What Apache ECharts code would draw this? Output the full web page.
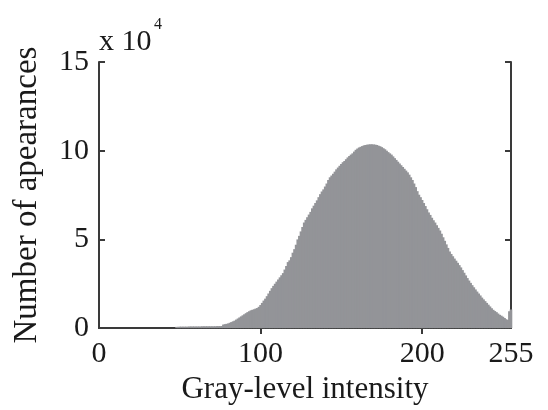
<!DOCTYPE html>
<html>
<head>
<meta charset="utf-8">
<script src="https://cdn.jsdelivr.net/npm/echarts@6/dist/echarts.min.js"></script>
<style>
html,body{margin:0;padding:0;background:#fff;}
#chart{width:548px;height:410px;}
</style>
</head>
<body>
<div id="chart"></div>
<script>
// Gray-level bins 0..255
var binCount = 256;
// Number of appearances per bin, in units of 10^4
var zeroBins = [0,0,0,0,0,0,0,0,0,0, 0,0,0,0,0,0,0,0,0,0, 0,0,0,0,0,0,0,0,0,0, 0,0,0,0,0,0,0,0,0,0, 0,0,0,0,0,0,0,0]; // bins 0-47
var lowBins = [0.07,0.07,0.08,0.08,0.08,0.08,0.08,0.08,0.09,0.09,0.09,0.09,0.09,0.09,0.09,0.09,0.1,0.1,0.1,0.1,0.1,0.1,0.1,0.1,0.1,0.11,0.11,0.11,0.12]; // bins 48-76
var mainBins = [
  0.2,0.22,0.24,0.26,0.3,0.34,0.38,0.42,0.48,0.54,
  0.6,0.66,0.72,0.78,0.84,0.9,0.95,1.0,1.03,1.06,
  1.1,1.13,1.2,1.3,1.42,1.55,1.66,1.8,1.95,2.1,
  2.25,2.38,2.5,2.62,2.74,2.86,2.98,3.1,3.3,3.5,
  3.72,3.82,4.0,4.25,4.45,4.7,5.0,5.2,5.45,5.7,
  5.95,6.1,6.25,6.4,6.55,6.75,6.9,7.05,7.2,7.38,
  7.55,7.7,7.82,7.98,8.15,8.35,8.5,8.6,8.7,8.82,
  8.95,9.05,9.15,9.25,9.35,9.42,9.52,9.62,9.7,9.78,
  9.85,9.95,10.05,10.12,10.18,10.22,10.26,10.3,10.32,10.34,
  10.35,10.36,10.36,10.35,10.34,10.32,10.28,10.25,10.2,10.14,
  10.08,10.0,9.92,9.85,9.78,9.68,9.58,9.48,9.38,9.28,
  9.18,9.08,8.98,8.88,8.78,8.65,8.5,8.35,8.15,7.95,
  7.72,7.52,7.38,7.22,7.05,6.88,6.7,6.52,6.38,6.22,
  6.08,5.95,5.8,5.65,5.5,5.32,5.12,4.92,4.72,4.52,
  4.32,4.18,4.05,3.92,3.8,3.68,3.55,3.42,3.27,3.12,
  2.97,2.82,2.68,2.55,2.42,2.3,2.18,2.06,1.95,1.84,
  1.72,1.62,1.52,1.42,1.32,1.22,1.12,1.03,0.96,0.9,
  0.82,0.75,0.7,0.64,0.57,0.5,0.46,0.95,1.05
]; // bins 77-255
var xTickLabels = [0, 100, 200, 255];
var xTopTicks = [100, 200];
var yTicks = [0, 5, 10, 15];

var counts = zeroBins.concat(lowBins, mainBins);
var categories = [];
for (var i = 0; i < binCount; i++) categories.push(String(i));

var FONT = '"Liberation Serif", "Times New Roman", serif';
var TXT = '#1a1a1a';
var LINE = '#3a3a3a';

var chart = echarts.init(document.getElementById('chart'), null, {renderer: 'canvas'});
chart.setOption({
  animation: false,
  backgroundColor: '#fff',
  grid: {left: 99, right: 37, top: 62, bottom: 80, containLabel: false},
  xAxis: [{
    type: 'category', data: categories, boundaryGap: false, position: 'bottom',
    name: 'Gray-level intensity', nameLocation: 'middle', nameGap: 40,
    nameTextStyle: {fontFamily: FONT, fontSize: 31, color: TXT},
    axisLine: {show: true, lineStyle: {color: LINE, width: 2}},
    axisTick: {show: true, inside: true, length: 6, lineStyle: {color: LINE, width: 2},
      interval: function (idx) { return xTopTicks.indexOf(idx) >= 0; }},
    axisLabel: {show: true, margin: 11, fontFamily: FONT, fontSize: 30, color: TXT,
      interval: function (idx) { return xTickLabels.indexOf(idx) >= 0; }},
    splitLine: {show: false}
  }, {
    type: 'category', data: categories, boundaryGap: false, position: 'top',
    axisLine: {show: true, lineStyle: {color: LINE, width: 2}},
    axisTick: {show: true, inside: true, length: 6, lineStyle: {color: LINE, width: 2},
      interval: function (idx) { return xTopTicks.indexOf(idx) >= 0; }},
    axisLabel: {show: false},
    splitLine: {show: false}
  }],
  yAxis: [{
    type: 'value', min: 0, max: 15, interval: 5, position: 'left',
    name: 'Number of apearances', nameLocation: 'middle', nameGap: 55, nameRotate: 90,
    nameTextStyle: {fontFamily: FONT, fontSize: 33, color: TXT},
    axisLine: {show: true, lineStyle: {color: LINE, width: 2}},
    axisTick: {show: true, inside: true, length: 6, lineStyle: {color: LINE, width: 2}},
    axisLabel: {show: true, margin: 10, fontFamily: FONT, fontSize: 30, color: TXT,
      formatter: function (v) { return yTicks.indexOf(v) >= 0 ? String(v) : ''; }},
    splitLine: {show: false}
  }, {
    type: 'value', min: 0, max: 15, interval: 5, position: 'right',
    axisLine: {show: true, lineStyle: {color: LINE, width: 2}},
    axisTick: {show: true, inside: true, length: 6, lineStyle: {color: LINE, width: 2}},
    axisLabel: {show: false},
    splitLine: {show: false}
  }],
  graphic: [{
    type: 'text', left: 99, top: 27,
    style: {text: 'x 10', fontFamily: FONT, fontSize: 30, fill: TXT}
  }, {
    type: 'text', left: 154, top: 17,
    style: {text: '4', fontFamily: FONT, fontSize: 16, fill: TXT}
  }],
  series: [{
    type: 'bar', xAxisIndex: 0, yAxisIndex: 0,
    data: counts, barWidth: 2.6, barGap: '-100%', clip: true,
    itemStyle: {color: '#939498', borderWidth: 0},
    z: 1, silent: true
  }]
});
</script>
</body>
</html>
